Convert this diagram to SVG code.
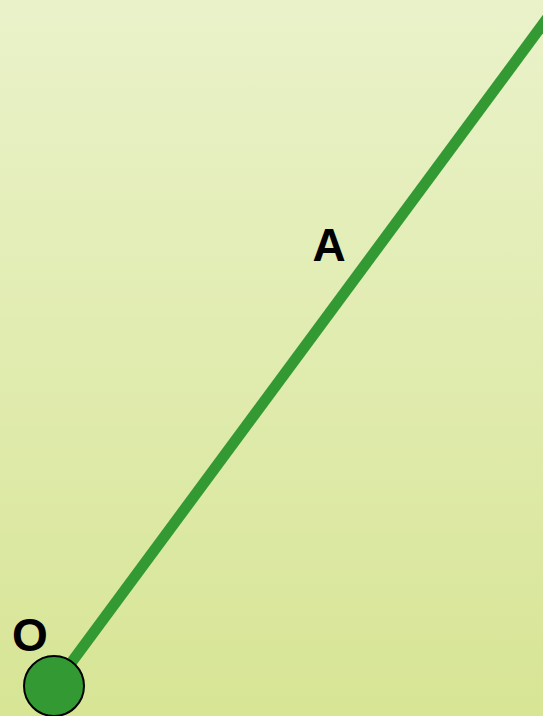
<svg xmlns="http://www.w3.org/2000/svg" width="543" height="716" viewBox="0 0 543 716">
<defs>
<linearGradient id="bg" x1="0" y1="0" x2="0" y2="1">
<stop offset="0" stop-color="#eaf2ca"/>
<stop offset="1" stop-color="#d7e595"/>
</linearGradient>
<style>
.lbl{font-family:"Liberation Sans",Arial,sans-serif;font-weight:bold;font-size:46px;fill:#000;text-anchor:middle}
</style>
</defs>
<rect width="543" height="716" fill="url(#bg)"/>
<g id="connectors">
<line x1="54" y1="686" x2="560" y2="1" stroke="#339933" stroke-width="11"/>
</g>
<g id="node-O">
<circle cx="54" cy="686" r="30" fill="#339933" stroke="#000" stroke-width="2"/>
<text class="lbl" x="30" y="651">O</text>
</g>
<g id="node-A">
<text class="lbl" x="329" y="261">A</text>
</g>
</svg>
